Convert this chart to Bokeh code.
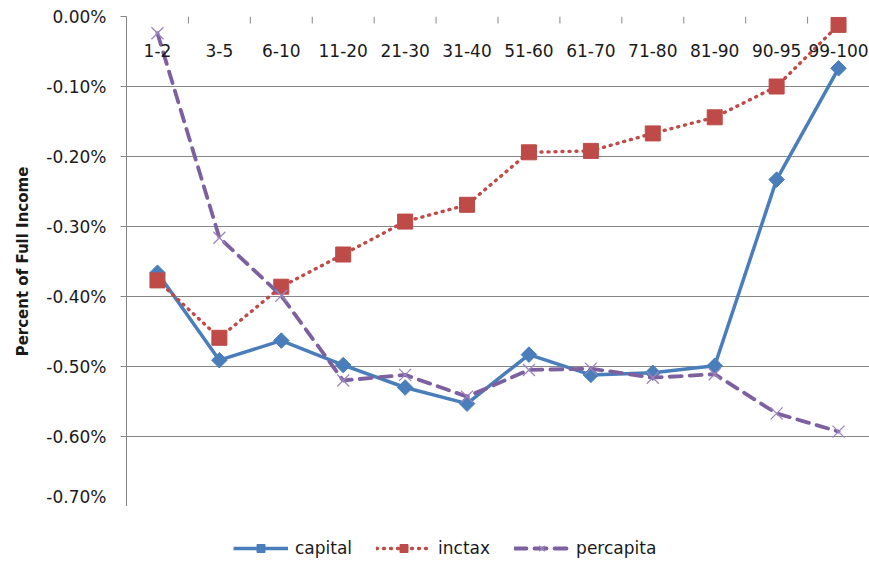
import math
from bokeh.plotting import figure
from bokeh.layouts import column
from bokeh.models import (FactorRange, Range1d, FixedTicker,
                          NumeralTickFormatter, Legend, LegendItem, ColumnDataSource)
from bokeh.transform import dodge
from bokeh.embed import file_html
from bokeh.resources import INLINE

groups = ["1-2", "3-5", "6-10", "11-20", "21-30", "31-40", "51-60",
          "61-70", "71-80", "81-90", "90-95", "99-100"]
capital = [-0.00366, -0.00491, -0.00463, -0.00498, -0.00530, -0.00553,
           -0.00483, -0.00512, -0.00509, -0.00499, -0.00233, -0.00074]
inctax = [-0.00377, -0.00459, -0.00386, -0.00340, -0.00293, -0.00269,
          -0.00194, -0.00192, -0.00167, -0.00144, -0.00100, -0.00012]
percapita = [-0.00024, -0.00316, -0.00399, -0.00520, -0.00512, -0.00543,
             -0.00505, -0.00503, -0.00516, -0.00511, -0.00567, -0.00593]
series_names = ["capital", "inctax", "percapita"]
y_ticks = [0.0, -0.001, -0.002, -0.003, -0.004, -0.005, -0.006, -0.007]

FONT = "DejaVu Sans"
TXT = "#1a1a1a"
GRAY = "#868686"
BLUE = "#4A7EBB"
RED = "#BE4B48"
PURPLE = "#7D60A0"
XCOL = "#9C86BE"
TICK_LEN = 0.0001  # ~7px tick marks below the zero line

STYLES = {
    "capital": dict(line=dict(line_color=BLUE, line_width=3.5, line_join="round"),
                    mark=dict(marker="square", angle=math.pi / 4, size=11,
                              fill_color=BLUE, line_color=BLUE)),
    "inctax": dict(line=dict(line_color=RED, line_width=3.4, line_dash="1 6", line_cap="round"),
                   mark=dict(marker="square", size=15, fill_color=RED, line_color=RED)),
    "percapita": dict(line=dict(line_color=PURPLE, line_width=3.8, line_dash="12 8",
                                line_cap="round"),
                      mark=dict(marker="x", size=17, line_color=XCOL, line_width=1.3)),
}

src = ColumnDataSource(dict(g=groups, capital=capital, inctax=inctax, percapita=percapita))

p = figure(width=869, height=506, x_range=FactorRange(*groups),
           y_range=Range1d(y_ticks[-1], y_ticks[0]),
           output_backend="svg", toolbar_location=None,
           min_border_left=126, min_border_top=16, min_border_right=0,
           min_border_bottom=0)
p.outline_line_color = None
p.background_fill_color = "white"
p.border_fill_color = "white"

# category labels axis, placed on the 0 line
xa = p.xaxis[0]
xa.fixed_location = 0
xa.axis_line_color = None
xa.major_tick_line_color = None
xa.major_tick_out = 0
xa.major_tick_in = 0
xa.major_label_standoff = 27
xa.major_label_text_font = FONT
xa.major_label_text_font_size = "17px"
xa.major_label_text_color = TXT

ya = p.yaxis[0]
ya.ticker = FixedTicker(ticks=y_ticks)
ya.formatter = NumeralTickFormatter(format="0.00%")
ya.axis_line_color = GRAY
ya.major_tick_line_color = GRAY
ya.major_tick_out = 6
ya.major_tick_in = 0
ya.minor_tick_line_color = None
ya.major_label_standoff = 14
ya.major_label_text_font = FONT
ya.major_label_text_font_size = "17px"
ya.major_label_text_color = TXT
ya.axis_label = "Percent of Full Income"
ya.axis_label_text_font = FONT
ya.axis_label_text_font_size = "15px"
ya.axis_label_text_font_style = "bold"
ya.axis_label_text_color = TXT
ya.axis_label_standoff = 11

p.xgrid.visible = False
p.ygrid.ticker = FixedTicker(ticks=y_ticks)
p.ygrid.grid_line_color = GRAY
p.ygrid.grid_line_width = 1

# category boundary tick marks on the zero line
p.segment(x0=dodge("g", -0.5, range=p.x_range), x1=dodge("g", -0.5, range=p.x_range),
          y0=0, y1=-TICK_LEN, source=src, line_color=GRAY, line_width=1)
p.segment(x0=dodge("g", 0.5, range=p.x_range), x1=dodge("g", 0.5, range=p.x_range),
          y0=0, y1=-TICK_LEN, source=ColumnDataSource(dict(g=groups[-1:])),
          line_color=GRAY, line_width=1)

for name in series_names:
    p.line("g", name, source=src, **STYLES[name]["line"])
    p.scatter("g", name, source=src, **STYLES[name]["mark"])

# legend strip below the chart (same styles; its sample renderers sit off-range)
leg = figure(width=869, height=56, x_range=Range1d(0, 1), y_range=Range1d(0, 1),
             output_backend="svg", toolbar_location=None,
             min_border_left=126, min_border_right=0, min_border_top=0, min_border_bottom=0,
             x_axis_location=None, y_axis_location=None)
leg.outline_line_color = None
leg.grid.visible = False
offscreen = ColumnDataSource(dict(x=[5, 6], y=[5, 6]))
items = []
for name in series_names:
    rl = leg.line("x", "y", source=offscreen, **STYLES[name]["line"])
    rm = leg.scatter("x", "y", source=offscreen, **STYLES[name]["mark"])
    items.append(LegendItem(label=name, renderers=[rl, rm]))
legend = Legend(items=items, orientation="horizontal", location=(107, 4),
                glyph_width=55, glyph_height=20, label_standoff=7, spacing=24,
                padding=0, margin=0, border_line_color=None,
                background_fill_alpha=0,
                label_text_font=FONT, label_text_font_size="17px",
                label_text_color=TXT)
leg.add_layout(legend, "center")

open("out.html", "w").write(file_html(column(p, leg, spacing=0), INLINE))
